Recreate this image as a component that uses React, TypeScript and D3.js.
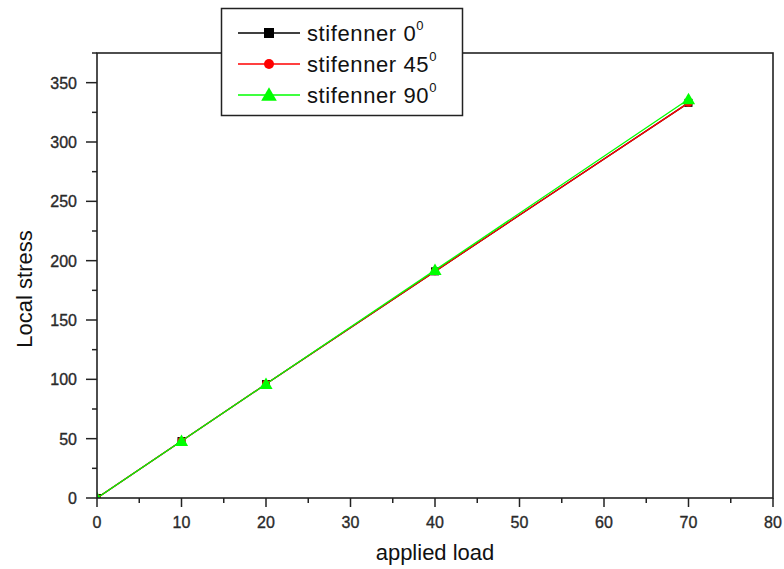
import React, { useEffect, useRef } from 'react';
import * as d3 from 'd3';

const loads = [0, 10, 20, 40, 70];
const stress0 = [0, 48, 96, 191, 333];
const stress45 = [0, 48, 96, 191, 333];
const stress90 = [0, 48, 96, 192, 336];
const xTicks = [0, 10, 20, 30, 40, 50, 60, 70, 80];
const yTicks = [0, 50, 100, 150, 200, 250, 300, 350];
const seriesNames = ['stifenner 0', 'stifenner 45', 'stifenner 90'];

const App: React.FC = () => {
  const svgRef = useRef<SVGSVGElement>(null);

  useEffect(() => {
    if (!svgRef.current) return;
    const svg = d3.select(svgRef.current);
    svg.selectAll('*').remove();

    const font = '"Liberation Sans", Arial, sans-serif';
    const x = d3.scaleLinear().domain([0, 80]).range([97, 773]);
    const y = d3.scaleLinear().domain([0, 375]).range([498, 53]);

    const series = [
      { name: seriesNames[0], values: stress0, color: '#000000', marker: 'square' },
      { name: seriesNames[1], values: stress45, color: '#ff0000', marker: 'circle' },
      { name: seriesNames[2], values: stress90, color: '#00ff00', marker: 'triangle' },
    ];

    // clip to plot area (origin markers get cut like in the original)
    svg.append('defs').append('clipPath').attr('id', 'plot-clip')
      .append('rect')
      .attr('x', x(0)).attr('y', y(375))
      .attr('width', x(80) - x(0)).attr('height', y(0) - y(375));

    const drawMarker = (g: any, type: string, color: string, cx: number, cy: number, s: number) => {
      if (type === 'square') {
        g.append('rect').attr('x', cx - s / 2).attr('y', cy - s / 2)
          .attr('width', s).attr('height', s).attr('fill', color);
      } else if (type === 'circle') {
        g.append('circle').attr('cx', cx).attr('cy', cy).attr('r', s / 2).attr('fill', color);
      } else {
        g.append('path')
          .attr('d', `M${cx},${cy - s * 0.6} L${cx + s * 0.6},${cy + s * 0.45} L${cx - s * 0.6},${cy + s * 0.45} Z`)
          .attr('fill', color);
      }
    };

    const line = d3.line<number>()
      .x((_, i) => x(loads[i]))
      .y(d => y(d));

    series.forEach(s => {
      const g = svg.append('g').attr('clip-path', 'url(#plot-clip)');
      g.append('path').datum(s.values)
        .attr('fill', 'none').attr('stroke', s.color).attr('stroke-width', 1.3)
        .attr('d', line);
      s.values.forEach((v, i) => {
        drawMarker(g, s.marker, s.color, x(loads[i]), y(v), s.marker === 'triangle' ? 11 : 8);
      });
    });

    // frame
    svg.append('rect')
      .attr('x', x(0)).attr('y', y(375))
      .attr('width', x(80) - x(0)).attr('height', y(0) - y(375))
      .attr('fill', 'none').attr('stroke', '#222').attr('stroke-width', 1.6);

    // x ticks
    const xMinor = d3.range(0, 81, 5);
    svg.append('g').selectAll('line').data(xMinor).enter().append('line')
      .attr('x1', d => x(d)).attr('x2', d => x(d))
      .attr('y1', y(0)).attr('y2', d => y(0) + (d % 10 === 0 ? 9 : 5))
      .attr('stroke', '#222').attr('stroke-width', 1.5);
    svg.append('g').selectAll('text').data(xTicks).enter().append('text')
      .attr('x', d => x(d)).attr('y', 528)
      .attr('text-anchor', 'middle')
      .attr('font-family', font).attr('font-size', 16).attr('fill', '#2a2a2a')
      .attr('stroke', '#2a2a2a').attr('stroke-width', 0.35)
      .text(d => d);

    // y ticks
    const yMinor = d3.range(0, 376, 25);
    svg.append('g').selectAll('line').data(yMinor).enter().append('line')
      .attr('y1', d => y(d)).attr('y2', d => y(d))
      .attr('x1', x(0)).attr('x2', d => x(0) - (d % 50 === 0 ? 11 : 5))
      .attr('stroke', '#222').attr('stroke-width', 1.5);
    svg.append('g').selectAll('text').data(yTicks).enter().append('text')
      .attr('x', 77).attr('y', d => y(d) + 6)
      .attr('text-anchor', 'end')
      .attr('font-family', font).attr('font-size', 16).attr('fill', '#2a2a2a')
      .attr('stroke', '#2a2a2a').attr('stroke-width', 0.35)
      .text(d => d);

    // axis titles
    svg.append('text')
      .attr('x', 435).attr('y', 560)
      .attr('text-anchor', 'middle')
      .attr('font-family', font).attr('font-size', 22).attr('fill', '#111')
      .text('applied load');
    svg.append('text')
      .attr('transform', `translate(32, 289) rotate(-90)`)
      .attr('text-anchor', 'middle')
      .attr('font-family', font).attr('font-size', 22).attr('fill', '#111')
      .text('Local stress');

    // legend
    const lg = svg.append('g');
    lg.append('rect').attr('x', 221.5).attr('y', 8.5).attr('width', 241).attr('height', 107)
      .attr('fill', '#fff').attr('stroke', '#222').attr('stroke-width', 1.5);
    series.forEach((s, i) => {
      const cy = 33 + i * 31;
      lg.append('line').attr('x1', 238).attr('x2', 300).attr('y1', cy).attr('y2', cy)
        .attr('stroke', s.color).attr('stroke-width', 1.3);
      drawMarker(lg, s.marker, s.color, 269, cy, s.marker === 'triangle' ? 13 : 10);
      const t = lg.append('text').attr('x', 307).attr('y', cy + 8)
        .attr('font-family', font).attr('font-size', 22).attr('letter-spacing', 0.6).attr('fill', '#111');
      t.append('tspan').text(s.name);
      t.append('tspan').attr('dy', -11).attr('font-size', 13).text('0');
    });
  }, []);

  return (
    <svg ref={svgRef} width={784} height={569} viewBox="0 0 784 569"
      style={{ position: 'absolute', left: 0, top: 0, background: '#fff' }} />
  );
};

export default App;
